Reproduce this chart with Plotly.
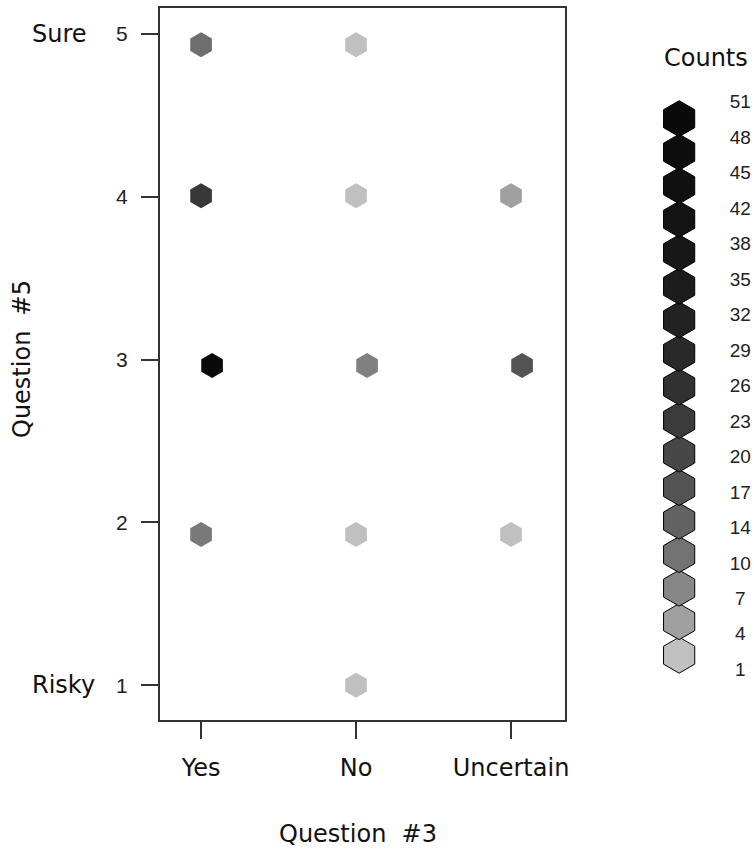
import plotly.graph_objects as go

# ---- data ----
q3_labels = ["Yes", "No", "Uncertain"]
q3_ticks = [1, 2, 3]
q5_ticks = [1, 2, 3, 4, 5]

# hexagon cell centres (data units) and counts
cell_x = [1.0, 2.0, 1.0, 2.0, 3.0, 1.071, 2.071, 3.071, 1.0, 2.0, 3.0, 2.0]
cell_y = [4.933, 4.933, 4.006, 4.006, 4.006, 2.963, 2.963, 2.963, 1.926, 1.926, 1.926, 1.0]
cell_count = [11, 1, 24, 1, 4, 51, 8, 17, 9, 1, 1, 1]

# legend levels and their grey colours
legend_levels = [1, 4, 7, 10, 14, 17, 20, 23, 26, 29, 32, 35, 38, 42, 45, 48, 51]
legend_greys = ["#C0C0C0", "#A0A0A0", "#878787", "#727272", "#626262", "#545454",
                "#474747", "#3B3B3B", "#313131", "#292929", "#222222", "#1C1C1C",
                "#171717", "#131313", "#101010", "#0D0D0D", "#0A0A0A"]

cmin, cmax = legend_levels[0], legend_levels[-1]
colorscale = [[(v - cmin) / (cmax - cmin), c] for v, c in zip(legend_levels, legend_greys)]

W, H = 754, 854
ML, MR, MT, MB = 160, 10, 6, 134
PW = W - ML - MR
PH = H - MT - MB

fig = go.Figure()

fig.add_trace(go.Scatter(
    x=cell_x, y=cell_y, mode="markers",
    marker=dict(symbol="hexagon", size=25, color=cell_count, colorscale=colorscale,
                cmin=cmin, cmax=cmax, line=dict(width=0)),
    xaxis="x", yaxis="y", showlegend=False, hoverinfo="skip"))

# legend column
n = len(legend_levels)
leg_idx = list(range(n))
lab_pos = [-0.476 + i * (16.446 + 0.476) / (n - 1) for i in range(n)]
fig.add_trace(go.Scatter(
    x=[0.31] * n, y=leg_idx, mode="markers",
    marker=dict(symbol="hexagon", size=36, color=legend_levels, colorscale=colorscale,
                cmin=cmin, cmax=cmax, line=dict(width=1, color="#000000")),
    xaxis="x2", yaxis="y2", showlegend=False, hoverinfo="skip"))
fig.add_trace(go.Scatter(
    x=[0.96] * n, y=lab_pos, mode="text", text=[str(v) for v in legend_levels],
    textposition="middle center",
    textfont=dict(family="Liberation Sans", size=19, color="#222222"),
    xaxis="x2", yaxis="y2", showlegend=False, hoverinfo="skip", cliponaxis=False))

axis_common = dict(showgrid=False, zeroline=False, ticks="outside", ticklen=17,
                   tickwidth=1.5, tickcolor="#333333", showline=True, mirror=True,
                   linecolor="#333333", linewidth=2)

title_font = dict(family="DejaVu Sans", size=24, color="#111111")

fig.update_layout(
    width=W, height=H, margin=dict(l=ML, r=MR, t=MT, b=MB),
    paper_bgcolor="white", plot_bgcolor="white",
    xaxis=dict(domain=[0, 405 / PW], range=[0.735, 3.348], tickvals=q3_ticks,
               ticktext=q3_labels, tickfont=dict(family="DejaVu Sans", size=24, color="#111111"),
               ticklabelstandoff=8, **axis_common),
    yaxis=dict(domain=[0, 1], range=[0.786, 5.159], tickvals=q5_ticks,
               tickfont=dict(family="Liberation Sans", size=21, color="#222222"),
               ticklabelstandoff=9, **axis_common),
    xaxis2=dict(domain=[(650 - ML) / PW, 1], range=[0, 1], visible=False, anchor="y2"),
    yaxis2=dict(domain=[0, 1], range=[-1.933, 19.30], visible=False, anchor="x2"),
    annotations=[
        dict(text="Counts", xref="paper", yref="paper", x=(706 - ML) / PW,
             y=(720 - 56) / PH, xanchor="center", yanchor="middle", showarrow=False,
             font=title_font),
        dict(text="Sure", xref="paper", yref="y", x=0, y=5, xanchor="left",
             yanchor="middle", xshift=30 - ML, showarrow=False, font=title_font),
        dict(text="Risky", xref="paper", yref="y", x=0, y=1, xanchor="left",
             yanchor="middle", xshift=30 - ML, showarrow=False, font=title_font),
        dict(text="Question  #5", xref="paper", yref="paper", x=0, y=0.5,
             xanchor="center", yanchor="middle",
             xshift=22 - ML, yshift=5, textangle=-90, showarrow=False, font=title_font),
        dict(text="Question  #3", xref="paper", yref="paper", x=(358 - ML) / PW, y=0,
             xanchor="center", yanchor="middle",
             yshift=-114, showarrow=False, font=title_font),
    ],
)

fig.write_html("out.html",
               config={"displayModeBar": False},
               post_script="document.body.style.margin='0px';"
                           "document.body.style.overflow='hidden';")
